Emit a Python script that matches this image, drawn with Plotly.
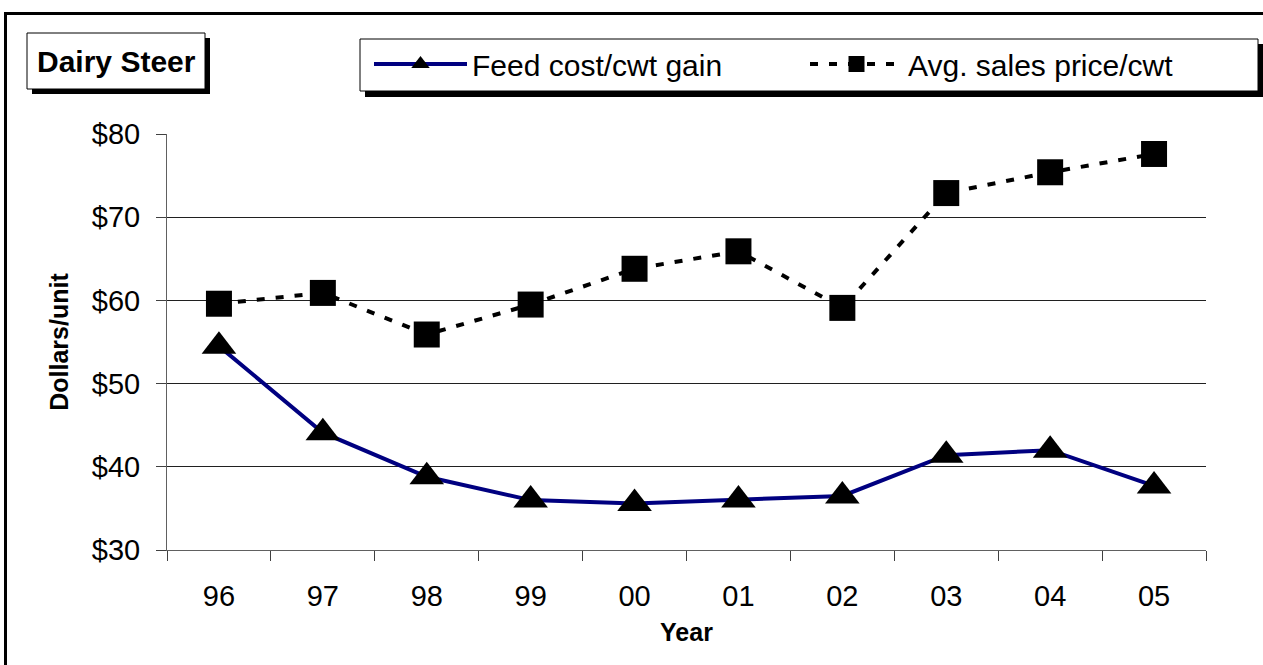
import plotly.graph_objects as go

years = ["96", "97", "98", "99", "00", "01", "02", "03", "04", "05"]
feed_cost = [54.5, 44.1, 38.8, 36.0, 35.6, 36.0, 36.5, 41.4, 42.0, 37.7]
sales_price = [59.6, 60.9, 55.9, 59.5, 63.8, 65.9, 59.1, 72.9, 75.4, 77.6]

W, H = 1263, 665
L, R, T, B = 167, 1206, 134, 550
FONT = "Liberation Sans, Arial, sans-serif"


def fx(px):
    return (px - L) / (R - L)


def fy(py):
    return (B - py) / (B - T)


def box(x0, y0, x1, y1, fill, lw=0):
    return dict(type="rect", xref="paper", yref="paper",
                x0=fx(x0), x1=fx(x1), y0=fy(y0), y1=fy(y1),
                line=dict(color="black", width=lw), fillcolor=fill)


def seg(x0, y0, x1, y1, lw):
    return dict(type="line", xref="paper", yref="paper",
                x0=fx(x0), x1=fx(x1), y0=fy(y0), y1=fy(y1),
                line=dict(color="black", width=lw), layer="above")


fig = go.Figure()
fig.add_trace(go.Scatter(
    x=years, y=feed_cost, name="Feed cost/cwt gain", mode="lines+markers",
    line=dict(color="#000080", width=4),
    marker=dict(symbol="triangle-up", size=30, color="black"),
))
fig.add_trace(go.Scatter(
    x=years, y=sales_price, name="Avg. sales price/cwt", mode="lines+markers",
    line=dict(color="black", width=4, dash="8px,11px"),
    marker=dict(symbol="square", size=26, color="black"),
))

shapes = [
    # outer frame: only left and top edges are inside the window
    seg(5.5, 12, 5.5, 665, 3),
    seg(4, 13.5, 1263, 13.5, 3),
    # title box: shadow + box
    box(32, 38, 210, 94, "black"),
    box(27, 33, 205, 89, "white", 1),
    # legend box: shadow + box
    box(365, 44, 1263, 97, "black"),
    box(360, 39, 1258, 91, "white", 1),
]

fig.update_layout(
    width=W, height=H,
    margin=dict(l=L, r=W - R, t=T, b=H - B),
    paper_bgcolor="white", plot_bgcolor="white",
    font=dict(family=FONT, color="black"),
    showlegend=True,
    legend=dict(
        orientation="h", x=fx(369), xanchor="left", y=fy(64), yanchor="middle",
        bgcolor="rgba(0,0,0,0)", borderwidth=0,
        font=dict(size=30, family=FONT, color="black"), itemwidth=93,
        entrywidth=328, itemsizing="trace",
    ),
    shapes=shapes,
    annotations=[dict(
        text="<b>Dairy Steer</b>", xref="paper", yref="paper",
        x=fx(116), y=fy(61), xanchor="center", yanchor="middle",
        showarrow=False, font=dict(size=30, family=FONT, color="black"),
    )],
    xaxis=dict(
        type="category", range=[-0.5, 9.5], tickson="boundaries",
        ticks="outside", ticklen=10, tickcolor="#404040", tickwidth=1,
        showline=True, linecolor="#606060", linewidth=1,
        showgrid=False, tickfont=dict(size=29), ticklabelstandoff=20,
        title=dict(text="<b>Year</b>", font=dict(size=25), standoff=12),
    ),
    yaxis=dict(
        range=[30, 80], dtick=10, tickprefix="$",
        ticks="outside", ticklen=10, tickcolor="#404040", tickwidth=1,
        showline=True, linecolor="#606060", linewidth=1,
        showgrid=True, gridcolor="#202020", gridwidth=1, zeroline=False,
        tickfont=dict(size=29), ticklabelstandoff=10,
        title=dict(text="<b>Dollars/unit</b>", font=dict(size=25), standoff=16),
    ),
)

fig.write_html(
    "out.html",
    config={"displayModeBar": False},
    post_script="document.body.style.margin='0';document.body.style.overflow='hidden';",
)
